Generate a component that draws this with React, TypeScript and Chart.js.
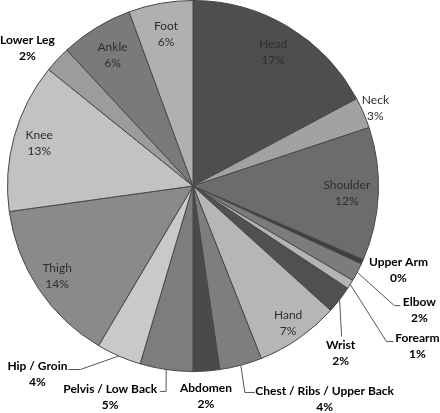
import React, { useEffect, useRef } from 'react';
import { Chart, registerables } from 'chart.js';

Chart.register(...registerables);

// injury location shares (%), clockwise from 12 o'clock
const regions = [
  'Head', 'Neck', 'Shoulder', 'Upper Arm', 'Elbow', 'Forearm', 'Wrist', 'Hand',
  'Chest / Ribs / Upper Back', 'Abdomen', 'Pelvis / Low Back', 'Hip / Groin',
  'Thigh', 'Knee', 'Lower Leg', 'Ankle', 'Foot',
];
const shares = [17.2, 2.7, 11.6, 0.4, 1.6, 0.8, 2.4, 7.3, 3.7, 2.3, 4.6, 3.9, 14.3, 13.0, 2.3, 6.3, 5.6];

const sliceColors = [
  '#4e4e4e', '#a2a2a2', '#6c6c6c', '#3e3e3e', '#7c7c7c', '#b4b4b4', '#505050', '#b6b6b6',
  '#7e7e7e', '#4a4a4a', '#7d7d7d', '#c9c9c9', '#8a8a8a', '#c2c2c2', '#9c9c9c', '#7a7a7a', '#b0b0b0',
];

// label placement: inside labels sit on the slice bisector at r * radius,
// outside labels are offsets from the pie centre (in px for a 186px radius)
type Lay =
  | { kind: 'in'; r: number }
  | { kind: 'out'; at: [number, number]; leader?: [number, number][] };

const labelLayout: Lay[] = [
  { kind: 'in', r: 0.84 },
  { kind: 'in', r: 1.07 },
  { kind: 'in', r: 0.83 },
  { kind: 'out', at: [206, 84] },
  { kind: 'out', at: [227, 124], leader: [[202, 120], [208, 120]] },
  { kind: 'out', at: [225, 161], leader: [[194, 156], [201, 156]] },
  { kind: 'out', at: [148, 168], leader: [[149, 151]] },
  { kind: 'in', r: 0.9 },
  { kind: 'out', at: [132, 214], leader: [[52, 207], [62, 207]] },
  { kind: 'out', at: [13, 211] },
  { kind: 'out', at: [-83, 212], leader: [[-27, 206], [-33, 206]] },
  { kind: 'out', at: [-156, 189], leader: [[-113, 184], [-125, 184]] },
  { kind: 'in', r: 0.88 },
  { kind: 'in', r: 0.86 },
  { kind: 'out', at: [-166, -138] },
  { kind: 'in', r: 0.83 },
  { kind: 'in', r: 0.83 },
];

const sliceLabels = {
  id: 'sliceLabels',
  afterDatasetsDraw(chart: any) {
    const ctx = chart.ctx;
    const meta = chart.getDatasetMeta(0);
    const total = shares.reduce((a, b) => a + b, 0);
    meta.data.forEach((arc: any, i: number) => {
      const { x, y, startAngle, endAngle, outerRadius } = arc.getProps(
        ['x', 'y', 'startAngle', 'endAngle', 'outerRadius'], true);
      const mid = (startAngle + endAngle) / 2;
      const s = outerRadius / 186;
      const pct = Math.round((shares[i] / total) * 100) + '%';
      const lay = labelLayout[i];
      let lx: number;
      let ly: number;
      ctx.save();
      ctx.textAlign = 'center';
      ctx.textBaseline = 'middle';
      if (lay.kind === 'in') {
        lx = x + Math.cos(mid) * outerRadius * lay.r;
        ly = y + Math.sin(mid) * outerRadius * lay.r;
        ctx.font = '12px Lato, "Open Sans", sans-serif';
        ctx.fillStyle = '#2e2e2e';
      } else {
        lx = x + lay.at[0] * s;
        ly = y + lay.at[1] * s;
        if (lay.leader) {
          ctx.strokeStyle = '#555555';
          ctx.lineWidth = 1;
          ctx.beginPath();
          ctx.moveTo(x + Math.cos(mid) * outerRadius, y + Math.sin(mid) * outerRadius);
          lay.leader.forEach(([px, py]) => ctx.lineTo(x + px * s, y + py * s));
          ctx.stroke();
        }
        ctx.font = 'bold 12px Lato, "Open Sans", sans-serif';
        ctx.fillStyle = '#000000';
      }
      ctx.fillText(regions[i], lx, ly - 8);
      ctx.fillText(pct, lx, ly + 8);
      ctx.restore();
    });
  },
};

const App = () => {
  const canvasRef = useRef<HTMLCanvasElement>(null);

  useEffect(() => {
    if (!canvasRef.current) return;
    const chart = new Chart(canvasRef.current, {
      type: 'pie',
      data: {
        labels: regions,
        datasets: [{
          data: shares,
          backgroundColor: sliceColors,
          borderColor: '#484848',
          borderWidth: 1,
        }],
      },
      options: {
        responsive: false,
        animation: false,
        layout: { padding: { left: 6, right: 60, top: 0, bottom: 41 } },
        plugins: {
          legend: { display: false },
          tooltip: { enabled: false },
        },
      },
      plugins: [sliceLabels],
    });
    return () => chart.destroy();
  }, []);

  return (
    <div style={{ position: 'absolute', left: 0, top: 0, width: 440, height: 413, background: '#fff' }}>
      <canvas ref={canvasRef} width={440} height={413} />
    </div>
  );
};

export default App;
